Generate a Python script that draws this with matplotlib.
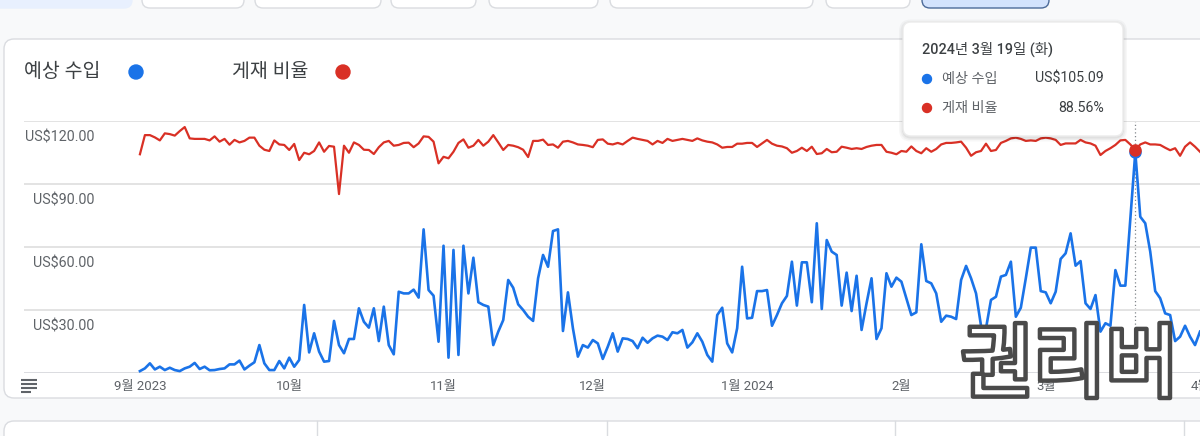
import matplotlib
matplotlib.use("Agg")
import matplotlib.pyplot as plt
import matplotlib.dates as mdates
from matplotlib.patches import FancyBboxPatch, Circle, PathPatch
from matplotlib.textpath import TextPath
from matplotlib.font_manager import FontProperties
from matplotlib.transforms import Affine2D, ScaledTranslation
import pandas as pd

plt.rcParams['font.family'] = ['Roboto', 'Noto Sans CJK KR', 'DejaVu Sans']

# daily values, 2023-09-01 .. 2024-04-01
start_date = "2023-09-01"
revenue = [
    0.9, 2.2, 4.6, 1.7, 3.0, 1.4, 2.5, 1.4, 0.9, 2.2,
    3.0, 4.8, 1.9, 3.0, 1.3, 1.4, 1.9, 2.2, 4.1, 4.1,
    5.9, 1.7, 3.5, 5.1, 13.3, 4.6, 1.4, 1.4, 5.7, 2.2,
    7.3, 3.0, 6.2, 32.4, 9.8, 18.9, 10.2, 5.4, 5.7, 24.8,
    13.3, 9.4, 16.2, 16.2, 30.8, 24.4, 21.6, 30.8, 15.2, 31.6,
    13.3, 8.9, 38.7, 37.9, 37.9, 39.7, 35.9, 68.4, 39.5, 36.8,
    14.9, 60.6, 7.3, 58.6, 8.6, 60.6, 37.9, 54.9, 33.7, 32.4,
    31.6, 13.3, 19.7, 25.2, 44.3, 40.6, 32.7, 30.0, 26.8, 24.8,
    45.1, 56.2, 50.6, 67.6, 68.4, 20.0, 38.4, 21.3, 7.8, 13.3,
    12.1, 15.7, 14.1, 6.7, 12.5, 18.9, 10.2, 16.5, 16.2, 15.2,
    11.8, 16.8, 14.4, 16.5, 17.8, 17.3, 15.7, 19.4, 18.9, 20.5,
    12.1, 14.6, 18.9, 14.9, 8.6, 5.4, 27.6, 31.1, 14.1, 9.8,
    21.3, 50.6, 26.0, 26.3, 39.0, 39.0, 39.5, 22.5, 27.6, 33.2,
    36.7, 53.0, 32.1, 52.7, 52.7, 33.7, 71.3, 30.5, 63.3, 57.8,
    56.2, 32.1, 47.8, 29.5, 46.3, 20.5, 33.2, 45.1, 16.2, 21.3,
    47.5, 41.1, 45.4, 43.5, 35.6, 27.6, 28.9, 61.3, 43.8, 42.7,
    37.9, 24.4, 27.3, 26.8, 25.7, 44.3, 51.0, 45.1, 37.9, 22.5,
    21.3, 34.8, 36.3, 45.9, 46.7, 53.0, 26.8, 31.1, 45.1, 59.7,
    59.7, 39.0, 38.4, 33.2, 38.7, 54.3, 57.0, 66.5, 51.1, 53.3,
    33.2, 30.5, 37.1, 19.7, 23.7, 22.5, 49.0, 41.6, 41.6, 73.7,
    105.09, 74.4, 71.3, 57.8, 39.0, 35.6, 28.4, 27.6, 15.2, 17.3,
    22.5, 17.3, 13.3, 19.7,
]
ratio = [
    86.8, 94.4, 94.4, 93.5, 92.3, 95.1, 94.8, 94.2, 96.0, 97.6,
    93.1, 92.9, 92.9, 92.9, 92.3, 93.9, 91.8, 92.9, 90.6, 92.5,
    91.5, 92.1, 93.4, 93.4, 90.2, 88.6, 88.1, 92.3, 90.7, 90.5,
    88.5, 90.9, 84.5, 87.4, 86.8, 88.1, 91.5, 87.8, 90.1, 89.8,
    71.0, 90.2, 87.4, 91.5, 90.5, 88.6, 88.5, 86.9, 89.6, 91.5,
    92.1, 90.2, 90.5, 91.3, 91.4, 89.6, 91.1, 93.9, 93.7, 91.8,
    83.2, 85.8, 85.2, 87.8, 91.3, 92.7, 89.4, 90.2, 92.5, 90.2,
    91.8, 94.4, 91.5, 88.5, 90.5, 90.2, 89.6, 88.6, 85.7, 92.1,
    92.1, 92.6, 90.5, 90.7, 89.4, 91.8, 92.1, 91.5, 90.7, 90.5,
    90.2, 89.6, 92.5, 92.7, 91.0, 90.7, 91.3, 90.7, 92.1, 93.4,
    92.9, 92.5, 92.1, 90.7, 92.1, 91.3, 92.9, 92.1, 92.5, 92.9,
    92.5, 92.1, 93.1, 92.3, 91.8, 91.5, 90.7, 89.4, 89.7, 89.7,
    91.0, 91.0, 91.3, 91.3, 89.7, 91.1, 92.5, 91.0, 90.2, 89.9,
    89.2, 87.4, 88.1, 89.4, 88.1, 89.8, 86.9, 87.2, 88.9, 87.6,
    87.8, 89.8, 89.4, 88.9, 89.2, 88.9, 89.7, 90.2, 90.5, 90.5,
    87.8, 87.4, 86.8, 88.1, 87.8, 89.9, 88.1, 87.2, 89.2, 87.8,
    88.9, 90.7, 91.3, 91.3, 91.5, 91.8, 89.4, 86.2, 87.6, 88.1,
    91.0, 88.1, 88.5, 91.3, 92.1, 93.1, 93.4, 92.9, 92.1, 92.3,
    92.1, 93.1, 93.4, 93.1, 92.5, 90.5, 91.1, 91.1, 91.1, 92.5,
    91.5, 91.1, 90.2, 86.5, 88.1, 89.2, 90.5, 92.3, 92.5, 90.7,
    88.56, 90.7, 91.5, 90.7, 90.7, 90.5, 89.4, 88.4, 89.2, 86.2,
    89.8, 91.5, 89.8, 87.8,
]

month_ticks = ["2023-09-01", "2023-10-01", "2023-11-01", "2023-12-01",
               "2024-01-01", "2024-02-01", "2024-03-01", "2024-04-01"]
month_labels = ["9월 2023", "10월", "11월", "12월", "1월 2024", "2월", "3월", "4월"]
y_ticks = [30, 60, 90, 120]
y_labels = ["US$30.00", "US$60.00", "US$90.00", "US$120.00"]

series_names = ["예상 수입", "게재 비율"]
tip_date = "2024-03-19"
tip_title = "2024년 3월 19일 (화)"
tip_revenue = 105.09
tip_ratio = 88.56
tip_texts = ["US$105.09", "88.56%"]

BLUE = "#1a73e8"
RED = "#d93025"
GREY = "#5f6368"
DARK = "#3c4043"

W, H = 1200, 436
fig = plt.figure(figsize=(12, 4.36), dpi=100)
fig.patch.set_facecolor("#f8f9fa")

# page background / cards, in pixel coords
bg = fig.add_axes([0, 0, 1, 1], zorder=0)
bg.set_xlim(0, W)
bg.set_ylim(H, 0)
bg.axis("off")

def card(a, x, y, w, h, fc="white", ec="#dadce0", r=10, lw=1.0):
    a.add_patch(FancyBboxPatch((x, y), w, h, boxstyle=f"round,pad=0,rounding_size={r}",
                               fc=fc, ec=ec, lw=lw))

# top buttons
card(bg, -20, -20, 152, 28, fc="#e8f0fe", ec="#e8f0fe", r=8)
for x0, x1 in [(142, 244), (255, 381), (391, 476), (489, 598), (610, 813), (826, 910)]:
    card(bg, x0, -20, x1 - x0, 28, r=8)
card(bg, 922, -20, 127, 28, fc="#d3e3fd", ec="#4d6b99", r=8)

# main card and bottom card
card(bg, 4, 39, 1240, 359, r=10)
card(bg, 4, 421, 1240, 60, r=10)
for xd in [317, 607, 895, 1184]:
    bg.plot([xd, xd], [421, 440], color="#dadce0", lw=1.0)

# chart
ax = fig.add_axes([24 / W, (H - 373) / H, 1176 / W, 252 / H], zorder=1)
ax.patch.set_alpha(0)
dates = pd.date_range(start_date, periods=len(revenue), freq="D")
x_start = mdates.date2num(dates[0])
px_day = 4.98
ax.set_xlim(x_start - 116 / px_day, x_start + 1060 / px_day)
ax.set_ylim(0, 120)
for s in ax.spines.values():
    s.set_visible(False)

ax.set_yticks(y_ticks)
ax.set_yticklabels([])
ax.tick_params(axis="y", length=0)
ax.grid(axis="y", color="#e3e3e3", lw=1.4)
ax.axhline(0, color="#dadce0", lw=1.4)

ytrans = ax.get_yaxis_transform() + ScaledTranslation(0, -0.165, fig.dpi_scale_trans)
for v, lab in zip(y_ticks, y_labels):
    ax.text(70 / 1176, v, lab, transform=ytrans, ha="right", va="center",
            fontsize=10.3, color=GREY)

ax.set_xticks(pd.to_datetime(month_ticks), month_labels)
ax.tick_params(axis="x", length=0, pad=5, labelsize=9.5, labelcolor=GREY)

ax.axvline(pd.Timestamp(tip_date), color="#80868b", lw=0.9, ls=(0, (1, 2)), zorder=1)
ax.plot(dates, revenue, color=BLUE, lw=1.9, zorder=3)
ax.plot(pd.Timestamp(tip_date), tip_revenue, "o", ms=8, color=BLUE, zorder=4)

ax2 = ax.twinx()
ax2.set_ylim(0, 100)
ax2.plot(dates, ratio, color=RED, lw=1.6, clip_on=False)
ax2.plot(pd.Timestamp(tip_date), tip_ratio, "o", ms=8, color=RED)
ax2.axis("off")

# overlay: legend, tooltip, icon, watermark
ov = fig.add_axes([0, 0, 1, 1], zorder=3)
ov.set_xlim(0, W)
ov.set_ylim(H, 0)
ov.axis("off")

ov.text(24, 72, series_names[0], fontsize=14, color=DARK, va="center", ha="left")
ov.add_patch(Circle((136, 72), 7, color=BLUE))
ov.text(232, 72, series_names[1], fontsize=14, color=DARK, va="center", ha="left")
ov.add_patch(Circle((343, 72), 7, color=RED))

for i, a in enumerate([0.05, 0.04, 0.03]):
    g = 1 + i * 1.5
    card(ov, 903 - g, 22 - g + 1.5, 220 + 2 * g, 114 + 2 * g, fc=(0, 0, 0, a), ec="none", r=8 + g)
card(ov, 903, 22, 220, 114, ec="#ececec", r=8)
ov.text(922, 49, tip_title, fontsize=10.4, color=DARK, va="center", ha="left", weight="medium")
for yy, col, name, val in zip([79, 108], [BLUE, RED], series_names, tip_texts):
    ov.add_patch(Circle((927, yy), 4.5, color=col))
    ov.text(942, yy, name, fontsize=10.2, color=GREY, va="center", ha="left")
    ov.text(1104, yy, val, fontsize=10.2, color=DARK, va="center", ha="right")

for yy, x1 in [(380, 37), (384, 37), (388, 37), (392, 31)]:
    ov.plot([21, x1], [yy, yy], color=GREY, lw=1.5, solid_capstyle="butt")

fp = FontProperties(family="Noto Sans CJK KR", weight="bold")
tp = TextPath((0, 0), "권리버", size=100, prop=fp)
ext = tp.get_extents()
tr = (Affine2D().translate(-ext.x0, -ext.y1)
      .scale((1170 - 963) / ext.width, -(398 - 323) / ext.height)
      .translate(963, 323))
ov.add_patch(PathPatch(tr.transform_path(tp), fc="white", ec="#4a4a4a", lw=3.2,
                       joinstyle="round"))

fig.savefig("out.png", dpi=100, facecolor=fig.get_facecolor())
